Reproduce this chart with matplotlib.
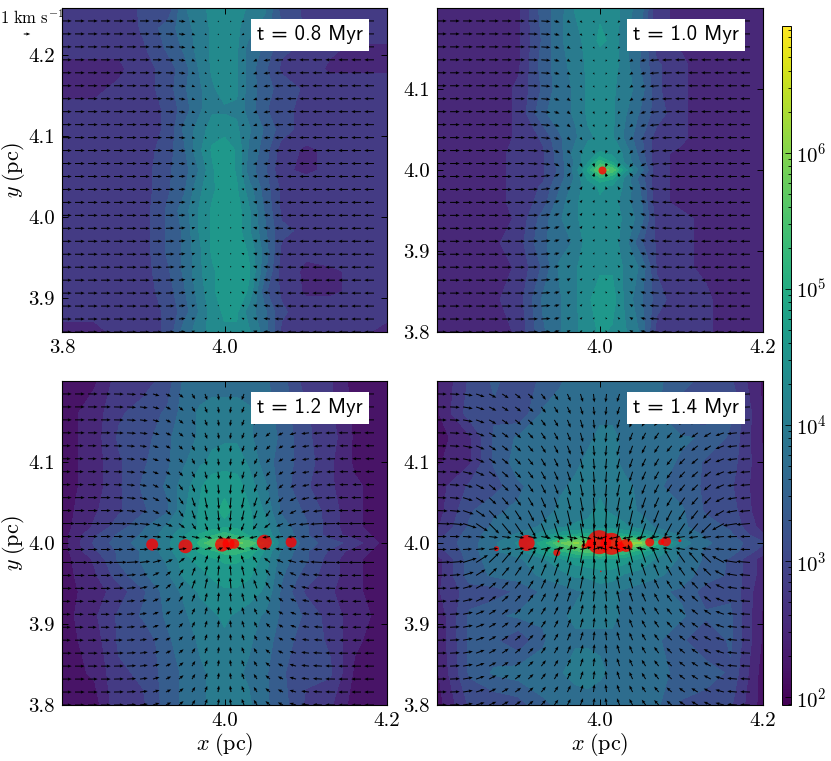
import numpy as np
import matplotlib
matplotlib.use('Agg')
import matplotlib.pyplot as plt
from matplotlib.cm import ScalarMappable
from matplotlib.colors import LogNorm, Normalize

plt.rcParams['font.family'] = 'cmr10'
plt.rcParams['mathtext.fontset'] = 'cm'
plt.rcParams['axes.unicode_minus'] = False

times = ['t = 0.8 Myr', 't = 1.0 Myr', 't = 1.2 Myr', 't = 1.4 Myr']

# density grid positions (pc)
x_grid = [3.80, 3.84, 3.87, 3.90, 3.93, 3.95, 3.97, 3.985, 4.0, 4.015, 4.03, 4.05, 4.07, 4.10, 4.13, 4.16, 4.20]
y_grid_08 = [3.858, 3.883, 3.908, 3.933, 3.958, 3.983, 4.008, 4.033, 4.058, 4.083, 4.108, 4.133, 4.158, 4.183, 4.208, 4.233, 4.258]
y_grid = [3.80, 3.84, 3.88, 3.91, 3.94, 3.96, 3.98, 3.99, 4.0, 4.01, 4.02, 4.04, 4.07, 4.10, 4.13, 4.16, 4.20]

# log10 density in tenths of a dex, rows bottom to top
rho_08 = [
    [26, 26, 27, 28, 30, 37, 40, 43, 44, 44, 42, 37, 29, 28, 28, 27, 26],
    [27, 27, 28, 28, 30, 34, 39, 43, 45, 45, 40, 36, 30, 28, 28, 27, 27],
    [27, 27, 27, 28, 31, 35, 40, 44, 46, 47, 44, 33, 29, 26, 26, 27, 27],
    [27, 27, 27, 28, 32, 36, 41, 44, 46, 47, 45, 36, 28, 26, 26, 27, 27],
    [27, 27, 28, 28, 33, 36, 41, 45, 46, 47, 44, 37, 29, 27, 28, 28, 28],
    [27, 27, 28, 28, 33, 36, 42, 45, 47, 46, 42, 36, 30, 29, 29, 29, 29],
    [27, 27, 28, 28, 33, 37, 42, 45, 47, 46, 42, 35, 29, 29, 29, 28, 28],
    [27, 27, 28, 28, 32, 35, 41, 44, 46, 45, 40, 34, 29, 28, 28, 28, 28],
    [27, 27, 27, 28, 32, 34, 39, 44, 47, 44, 37, 33, 27, 26, 27, 28, 28],
    [27, 27, 27, 28, 31, 35, 41, 45, 47, 44, 38, 34, 28, 26, 27, 27, 27],
    [27, 27, 28, 28, 30, 36, 40, 43, 43, 42, 39, 35, 31, 28, 28, 28, 28],
    [27, 27, 28, 28, 30, 34, 38, 41, 41, 41, 37, 33, 30, 29, 28, 28, 28],
    [26, 26, 27, 28, 31, 35, 38, 41, 43, 42, 37, 34, 31, 29, 28, 28, 28],
    [26, 26, 26, 28, 31, 34, 39, 42, 43, 42, 37, 33, 29, 28, 26, 26, 26],
    [27, 27, 27, 29, 33, 36, 40, 42, 43, 42, 37, 35, 30, 29, 27, 26, 26],
    [27, 27, 27, 30, 34, 37, 40, 42, 43, 42, 40, 37, 33, 29, 28, 28, 28],
    [27, 27, 28, 30, 30, 38, 41, 42, 43, 43, 41, 39, 31, 29, 27, 27, 27],
]
rho_10 = [
    [24, 24, 25, 27, 35, 38, 41, 43, 45, 44, 42, 38, 28, 27, 27, 25, 24],
    [24, 24, 26, 28, 36, 38, 41, 44, 46, 46, 41, 36, 31, 27, 27, 25, 24],
    [24, 24, 25, 27, 33, 39, 41, 44, 44, 44, 41, 38, 29, 27, 26, 24, 24],
    [24, 24, 26, 28, 35, 37, 39, 43, 44, 43, 40, 33, 29, 27, 26, 24, 24],
    [24, 24, 25, 27, 34, 38, 41, 43, 43, 43, 41, 37, 28, 27, 26, 24, 24],
    [24, 24, 26, 27, 31, 37, 41, 43, 44, 43, 40, 36, 27, 26, 25, 24, 24],
    [24, 24, 26, 27, 30, 35, 40, 43, 45, 44, 41, 35, 27, 26, 25, 24, 24],
    [24, 24, 26, 27, 29, 34, 39, 45, 50, 48, 41, 34, 27, 26, 25, 24, 24],
    [24, 24, 26, 27, 29, 33, 40, 48, 58, 56, 46, 37, 27, 26, 25, 24, 24],
    [24, 24, 26, 27, 29, 34, 39, 44, 52, 47, 41, 35, 27, 26, 25, 24, 24],
    [24, 24, 26, 27, 29, 34, 40, 43, 45, 44, 41, 34, 27, 26, 25, 24, 24],
    [24, 24, 25, 27, 30, 35, 38, 41, 42, 42, 38, 33, 28, 27, 25, 24, 24],
    [24, 24, 25, 27, 35, 37, 39, 42, 43, 42, 39, 35, 31, 27, 25, 24, 24],
    [24, 24, 25, 27, 33, 37, 39, 42, 42, 42, 40, 37, 30, 27, 25, 24, 24],
    [24, 24, 25, 26, 34, 37, 40, 42, 43, 43, 40, 35, 30, 27, 25, 24, 24],
    [24, 24, 25, 26, 33, 38, 40, 43, 45, 44, 39, 36, 27, 26, 25, 24, 24],
    [24, 24, 25, 26, 34, 37, 42, 44, 44, 44, 40, 37, 27, 26, 25, 24, 24],
]
rho_12 = [
    [22, 22, 29, 29, 34, 36, 38, 39, 40, 40, 39, 36, 34, 29, 27, 22, 22],
    [22, 24, 29, 30, 34, 36, 38, 39, 40, 39, 38, 36, 33, 30, 30, 23, 22],
    [22, 25, 30, 30, 35, 37, 39, 40, 41, 40, 39, 37, 34, 31, 29, 24, 22],
    [22, 26, 30, 33, 36, 38, 40, 41, 42, 41, 40, 38, 35, 32, 28, 25, 22],
    [22, 25, 28, 32, 37, 39, 42, 43, 44, 44, 43, 41, 35, 29, 27, 24, 22],
    [22, 26, 31, 35, 38, 42, 43, 45, 46, 46, 45, 42, 36, 31, 28, 24, 22],
    [22, 27, 33, 36, 39, 43, 46, 47, 48, 48, 47, 43, 37, 33, 28, 24, 22],
    [22, 29, 33, 36, 40, 45, 48, 50, 52, 52, 50, 44, 38, 33, 29, 25, 22],
    [22, 30, 34, 37, 41, 44, 52, 56, 58, 57, 56, 50, 40, 34, 31, 28, 22],
    [22, 29, 33, 36, 40, 44, 48, 50, 52, 50, 47, 44, 38, 33, 28, 25, 22],
    [22, 27, 31, 35, 39, 42, 45, 46, 47, 47, 45, 43, 37, 33, 28, 24, 22],
    [22, 26, 29, 32, 35, 41, 45, 47, 48, 47, 45, 41, 35, 32, 28, 24, 22],
    [22, 25, 29, 33, 36, 40, 44, 47, 47, 46, 43, 39, 34, 30, 27, 24, 22],
    [22, 25, 29, 32, 35, 38, 41, 42, 43, 43, 41, 37, 34, 31, 27, 23, 22],
    [22, 25, 30, 31, 35, 37, 39, 41, 41, 41, 39, 37, 35, 30, 28, 23, 22],
    [22, 25, 29, 31, 33, 37, 39, 40, 40, 40, 39, 37, 34, 30, 27, 23, 22],
    [22, 23, 28, 28, 31, 36, 37, 37, 37, 37, 37, 36, 34, 28, 27, 22, 22],
]
rho_14 = [
    [22, 30, 30, 31, 35, 36, 36, 37, 37, 37, 37, 36, 36, 32, 31, 30, 22],
    [23, 33, 36, 37, 37, 38, 40, 40, 39, 38, 38, 37, 36, 35, 34, 32, 22],
    [24, 33, 33, 30, 35, 38, 38, 38, 38, 38, 37, 37, 36, 33, 30, 33, 23],
    [24, 33, 35, 36, 36, 38, 39, 39, 39, 39, 38, 37, 36, 36, 33, 33, 23],
    [26, 31, 31, 33, 36, 37, 38, 39, 40, 39, 38, 37, 36, 35, 31, 32, 24],
    [25, 34, 36, 37, 39, 40, 42, 42, 43, 43, 41, 40, 39, 37, 34, 32, 25],
    [25, 34, 37, 38, 41, 44, 46, 47, 47, 47, 46, 44, 41, 38, 35, 32, 25],
    [28, 34, 38, 41, 47, 50, 53, 55, 56, 55, 53, 49, 44, 38, 35, 34, 28],
    [30, 34, 38, 42, 49, 56, 60, 58, 56, 58, 62, 60, 52, 40, 36, 34, 30],
    [28, 34, 37, 39, 43, 46, 48, 49, 49, 49, 48, 46, 42, 38, 35, 33, 27],
    [26, 33, 36, 37, 39, 41, 42, 42, 43, 43, 42, 40, 38, 36, 34, 32, 25],
    [25, 32, 35, 36, 37, 39, 40, 41, 42, 41, 40, 38, 37, 36, 32, 31, 24],
    [25, 30, 31, 35, 37, 38, 39, 40, 41, 40, 39, 38, 36, 34, 32, 30, 24],
    [23, 26, 33, 37, 37, 38, 38, 39, 40, 39, 38, 38, 37, 35, 32, 31, 24],
    [22, 26, 33, 36, 37, 37, 38, 38, 39, 39, 38, 38, 37, 36, 35, 32, 23],
    [23, 31, 32, 30, 36, 37, 37, 37, 38, 38, 38, 37, 36, 30, 30, 33, 23],
    [23, 30, 33, 31, 33, 35, 37, 37, 38, 37, 37, 36, 36, 34, 31, 30, 23],
]

# velocity read along the 25 columns / 25 rows, km/s
ux_08 = [1.5, 1.5, 1.5, 1.5, 1.5, 1.5, 1.5, 1.4, 1.3, 1.0, 0.5, 0.3, 0.15, -0.15, -0.4, -0.6, -1.0, -1.3, -1.4, -1.5, -1.5, -1.5, -1.5, -1.5, -1.5]
uf_08 = [1.0] * 25
vy_08 = [0.2, 0.2, 0.2, 0.25, 0.2, 0.2, 0.2, 0.2, 0.2, 0.1, 0.1, 0.1, 0.1, -0.1, -0.1, -0.1, -0.2, -0.2, -0.2, -0.2, -0.2, -0.25, -0.2, -0.2, -0.2]
vf_08 = [0, 0, 0, 0, 0, 0, 0, 0, 0.2, 0.5, 1, 1, 1, 1, 1, 1, 0.5, 0.2, 0, 0, 0, 0, 0, 0, 0]

ux_10 = [1.5, 1.5, 1.5, 1.5, 1.5, 1.5, 1.5, 1.5, 1.4, 0.8, 0.5, 0.3, 0.15, -0.15, -0.3, -0.5, -0.8, -1.4, -1.5, -1.5, -1.5, -1.5, -1.5, -1.5, -1.5]
uf_10 = [1.0] * 25
vy_10 = [0.3, 0.3, 0.3, 0.3, 0.3, 0.3, 0.3, 0.35, 0.4, 0.4, 0.4, 0.5, 0.6, -0.6, -0.5, -0.4, -0.4, -0.4, -0.35, -0.3, -0.3, -0.3, -0.3, -0.3, -0.3]
vf_10 = [0, 0, 0, 0, 0, 0, 0, 0.1, 0.3, 0.7, 1, 1, 1, 1, 1, 1, 0.7, 0.3, 0.1, 0, 0, 0, 0, 0, 0]

ux_12 = [1.5, 1.5, 1.5, 1.5, 1.5, 1.4, 1.2, 1.0, 0.8, 0.7, 0.5, 0.35, 0.15, -0.15, -0.35, -0.5, -0.7, -0.8, -1.0, -1.2, -1.4, -1.5, -1.5, -1.5, -1.5]
uf_12 = [1, 1, 1, 1, 1, 0.9, 0.9, 0.9, 0.9, 1, 1, 1.3, 1, 1, 1.3, 1, 1, 0.9, 0.9, 0.9, 0.9, 1, 1, 1, 1]
vy_12 = [1.0, 1.0, 1.0, 1.0, 1.0, 1.0, 1.1, 1.2, 1.4, 1.7, 1.6, 1.2, 0.3, -0.3, -1.2, -1.7, -1.8, -1.5, -1.2, -1.1, -1.0, -1.0, -1.0, -1.0, -1.0]
vf_12 = [0, 0, 0, 0, 0.03, 0.08, 0.15, 0.3, 0.4, 0.6, 0.8, 0.95, 1, 1, 0.95, 0.8, 0.6, 0.4, 0.3, 0.15, 0.08, 0.03, 0, 0, 0]
# rows just below / above y = 4.0 run horizontally almost to the centre
u_mid_12 = [1.5, 1.5, 1.5, 1.5, 1.4, 1.3, 1.3, 1.3, 1.2, 1.2, 1.2, 1.1, 0.8, -0.8, -1.1, -1.2, -1.2, -1.2, -1.3, -1.3, -1.3, -1.4, -1.5, -1.5, -1.5]

ux_14 = [1.5, 1.5, 1.5, 1.3, 1.1, 1.0, 0.9, 0.8, 0.7, 0.6, 0.5, 0.4, 0.15, -0.15, -0.4, -0.5, -0.6, -0.7, -0.8, -0.9, -1.0, -1.1, -1.3, -1.5, -1.5]
uf_14 = [1, 1, 1, 1, 1, 1, 1, 1, 1, 1, 1.1, 1.4, 1, 1, 1.4, 1.1, 1, 1, 1, 1, 1, 1, 1, 1, 1]
vy_14 = [1.1, 1.2, 1.3, 1.3, 1.4, 1.4, 1.5, 1.6, 1.8, 2.1, 2.6, 3.3, 0.4, -0.4, -3.4, -2.8, -2.3, -2.0, -1.8, -1.7, -1.6, -1.5, -1.4, -1.3, -1.3]
vf_14 = [0.02, 0.05, 0.2, 0.35, 0.45, 0.5, 0.55, 0.6, 0.7, 0.75, 0.85, 0.95, 1, 1, 0.95, 0.85, 0.75, 0.7, 0.6, 0.55, 0.5, 0.45, 0.3, 0.1, 0.05]
u_mid_14 = [1.5, 1.5, 1.4, 1.4, 1.4, 1.4, 1.4, 1.4, 1.5, 1.5, 1.6, 1.7, 1.2, -1.2, -1.7, -1.6, -1.5, -1.5, -1.4, -1.4, -1.4, -1.4, -1.4, -1.5, -1.5]

# sink particles: x, y in pc, diameter in pixels
sink_x_10 = [4.002]
sink_y_10 = [4.000]
sink_d_10 = [8]
sink_x_12 = [3.911, 3.952, 3.997, 4.005, 4.012, 4.049, 4.082]
sink_y_12 = [3.998, 3.996, 3.998, 3.999, 3.999, 4.001, 4.001]
sink_d_12 = [12, 14, 14, 12, 10, 15, 11]
sink_x_14 = [3.873, 3.910, 3.949, 3.947, 3.999, 4.014, 4.032, 4.061, 4.081, 4.075, 4.098, 4.048, 4.001, 3.981, 3.989, 4.024]
sink_y_14 = [3.993, 4.000, 4.002, 3.988, 4.001, 3.999, 3.997, 4.001, 4.002, 4.001, 4.003, 4.005, 3.965, 3.996, 3.999, 3.995]
sink_d_14 = [5, 16, 2, 7, 24, 22, 13, 9, 10, 6, 3, 3, 1.5, 6, 10, 10]

W, H = 831, 761
KM_PER_DOT = 1 / 6.5


def px_axes(fig, left, top, right, bottom):
    return fig.add_axes([left / W, 1 - bottom / H, (right - left) / W, (bottom - top) / H])


def panel(ax, ys, rho, ux, uf, vy, vf, y0, label, sx=None, sy=None, sd=None, u_mid=None):
    logrho = np.array(rho) / 10.0
    ax.contourf(x_grid, ys, logrho, levels=np.arange(2.05, 7.01, 0.3), extend='min', cmap='viridis',
                norm=Normalize(1.94, 6.93))
    if sx:
        s = (np.array(sd) * 0.72) ** 2
        ax.scatter(sx, sy, s=s, c='red', alpha=0.8, linewidths=0, zorder=3)
    qx = 3.8 + 0.016 * np.arange(25)
    qy = y0 + 0.016 * np.arange(25)
    u = np.outer(uf, ux)
    v = np.outer(vy, vf)
    if u_mid:
        u[12] = u_mid
        u[13] = u_mid
    q = ax.quiver(qx, qy, u, v, angles='uv', units='dots', scale_units='dots', scale=KM_PER_DOT,
                  width=1.0, headwidth=3.2, headlength=4, headaxislength=3.6, color='black', zorder=4)
    ax.set_xlim(3.8, 4.2)
    ax.set_ylim(y0, y0 + 0.4)
    ax.tick_params(direction='in', top=True, right=True, length=4, width=0.7, labelsize=15, pad=5)
    ax.text(0.763, 0.917, label, transform=ax.transAxes, family='cmss10', fontsize=15, ha='center', va='center',
            zorder=6, bbox=dict(fc='white', ec='none', pad=4.5))
    return q


fig = plt.figure(figsize=(W / 100, H / 100), dpi=100)
ax1 = px_axes(fig, 62, 8, 387, 332)
ax2 = px_axes(fig, 437, 8, 763, 332)
ax3 = px_axes(fig, 62, 381, 387, 705)
ax4 = px_axes(fig, 437, 381, 763, 705)

q1 = panel(ax1, y_grid_08, rho_08, ux_08, uf_08, vy_08, vf_08, 3.858, times[0])
panel(ax2, y_grid, rho_10, ux_10, uf_10, vy_10, vf_10, 3.8, times[1], sink_x_10, sink_y_10, sink_d_10)
panel(ax3, y_grid, rho_12, ux_12, uf_12, vy_12, vf_12, 3.8, times[2], sink_x_12, sink_y_12, sink_d_12, u_mid_12)
panel(ax4, y_grid, rho_14, ux_14, uf_14, vy_14, vf_14, 3.8, times[3], sink_x_14, sink_y_14, sink_d_14, u_mid_14)

ax1.set_xticks([3.8, 4.0], ['3.8', '4.0'])
ax1.set_yticks([3.9, 4.0, 4.1, 4.2], ['3.9', '4.0', '4.1', '4.2'])
ax2.set_xticks([4.0, 4.2], ['4.0', '4.2'])
ax2.set_yticks([3.8, 3.9, 4.0, 4.1], ['3.8', '3.9', '4.0', '4.1'])
ax3.set_xticks([4.0, 4.2], ['4.0', '4.2'])
ax3.set_yticks([3.8, 3.9, 4.0, 4.1], ['3.8', '3.9', '4.0', '4.1'])
ax4.set_xticks([4.0, 4.2], ['4.0', '4.2'])
ax4.set_yticks([3.8, 3.9, 4.0, 4.1], ['3.8', '3.9', '4.0', '4.1'])

for ax in (ax1, ax3):
    ax.set_ylabel(r'$y\;\mathrm{(pc)}$', fontsize=16, labelpad=1)
for ax in (ax3, ax4):
    ax.set_xlabel(r'$x\;\mathrm{(pc)}$', fontsize=16, labelpad=1)

ax1.quiverkey(q1, X=27 / W, Y=1 - 34 / H, U=1, label='', coordinates='figure')
fig.text(0, 1 - 18 / H, r'$1\ \mathrm{km\ s^{-1}}$', fontsize=12, ha='left', va='center')

cax = px_axes(fig, 782, 26, 791, 705)
sm = ScalarMappable(norm=LogNorm(88, 8.5e6), cmap='viridis')
cb = fig.colorbar(sm, cax=cax)
cb.ax.tick_params(which='both', direction='in', labelsize=15, width=0.6)
cb.ax.tick_params(which='major', length=4)
cb.ax.tick_params(which='minor', length=2.5)
cb.outline.set_linewidth(0.7)

fig.savefig('out.png', dpi=100)
